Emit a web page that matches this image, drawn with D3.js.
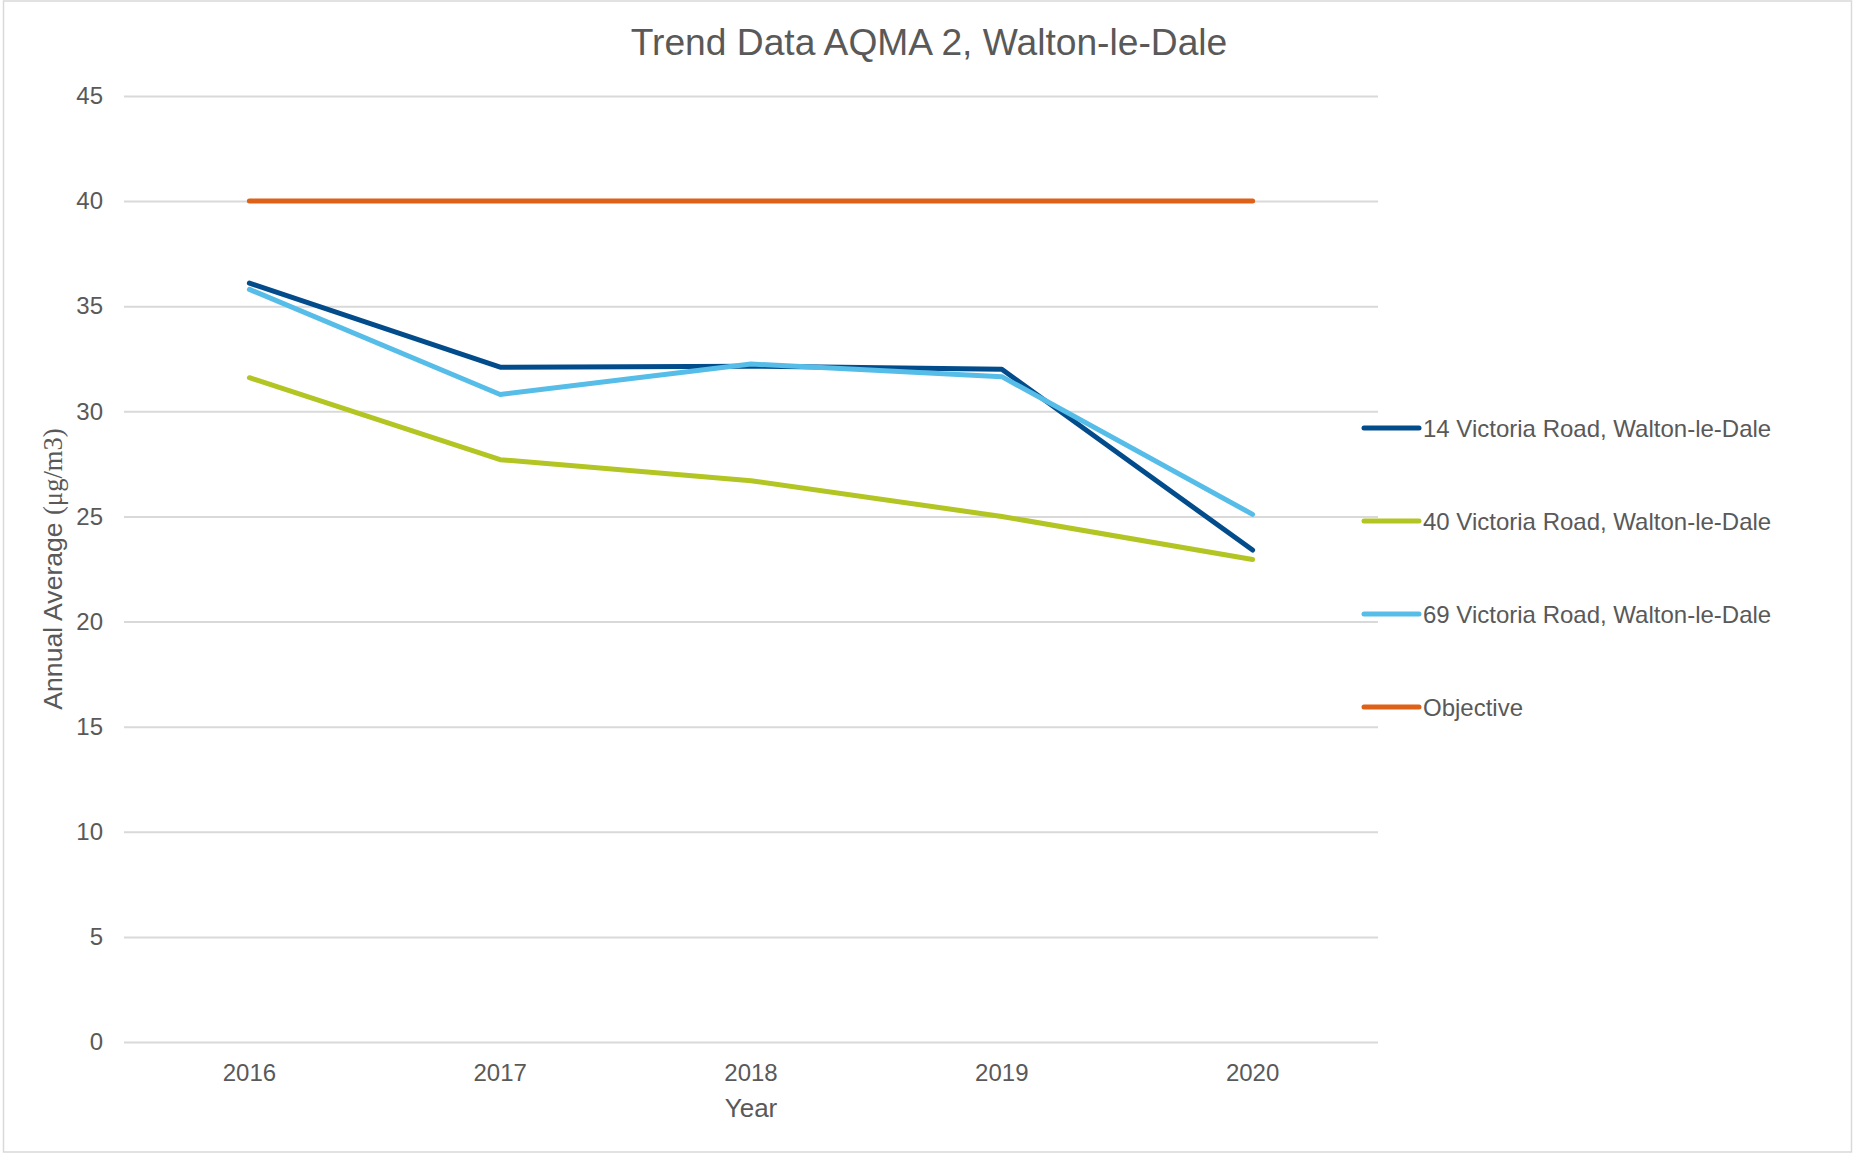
<!DOCTYPE html>
<html>
<head>
<meta charset="utf-8">
<script src="https://cdn.jsdelivr.net/npm/d3@7"></script>
<style>
  html, body { margin: 0; padding: 0; background: #fff; }
  svg { display: block; }
  text { font-family: "Liberation Sans", Arial, sans-serif; fill: #595959; }
</style>
</head>
<body>
<svg id="chart" width="1855" height="1154"></svg>
<script>
const years = ["2016", "2017", "2018", "2019", "2020"];
const yTicks = [0, 5, 10, 15, 20, 25, 30, 35, 40, 45];
const seriesNames = ["14 Victoria Road, Walton-le-Dale", "40 Victoria Road, Walton-le-Dale", "69 Victoria Road, Walton-le-Dale", "Objective"];
const victoria14 = [36.1, 32.1, 32.15, 32.0, 23.4];
const victoria40 = [31.6, 27.7, 26.7, 25.0, 22.95];
const victoria69 = [35.8, 30.8, 32.25, 31.65, 25.1];
const objective = [40, 40, 40, 40, 40];
const seriesColors = ["#034c8c", "#b3c522", "#56bde8", "#dd6117"];

const seriesValues = [victoria14, victoria40, victoria69, objective];

const svg = d3.select("#chart");
const W = 1855, H = 1154;
const plot = { left: 124, right: 1378, top: 96, bottom: 1042 };

// border
svg.append("rect")
  .attr("x", 3.5).attr("y", 1).attr("width", W - 7).attr("height", H - 3)
  .attr("fill", "#fff").attr("stroke", "#d9d9d9").attr("stroke-width", 1.5);

const x = d3.scaleBand().domain(years).range([plot.left, plot.right]);
const y = d3.scaleLinear().domain([0, 45]).range([plot.bottom, plot.top]);
const cx = d => x(d) + x.bandwidth() / 2;

// gridlines
const yAxis = d3.axisLeft(y).tickValues(yTicks).tickSize(-(plot.right - plot.left)).tickPadding(21);
const gy = svg.append("g").attr("transform", `translate(${plot.left},0)`).call(yAxis);
gy.select(".domain").remove();
gy.selectAll(".tick line").attr("stroke", "#d9d9d9").attr("stroke-width", 2);
gy.selectAll(".tick text").attr("font-size", 24).attr("fill", "#595959")
  .attr("font-family", "Liberation Sans, Arial, sans-serif");

// x axis labels
const xAxis = d3.axisBottom(x).tickSize(0).tickPadding(22);
const gx = svg.append("g").attr("transform", `translate(0,${plot.bottom})`).call(xAxis);
gx.select(".domain").remove();
gx.selectAll(".tick text").attr("font-size", 24).attr("fill", "#595959")
  .attr("font-family", "Liberation Sans, Arial, sans-serif");

// lines
const line = d3.line().x((d, i) => cx(years[i])).y(d => y(d));
seriesValues.forEach((vals, k) => {
  svg.append("path")
    .datum(vals)
    .attr("d", line)
    .attr("fill", "none")
    .attr("stroke", seriesColors[k])
    .attr("stroke-width", 5)
    .attr("stroke-linecap", "round")
    .attr("stroke-linejoin", "round");
});

// title
svg.append("text")
  .attr("x", 929).attr("y", 55)
  .attr("text-anchor", "middle")
  .attr("font-size", 37.2)
  .text("Trend Data AQMA 2, Walton-le-Dale");

// axis titles
svg.append("text")
  .attr("x", (plot.left + plot.right) / 2).attr("y", 1117)
  .attr("text-anchor", "middle")
  .attr("font-size", 26)
  .text("Year");

const yt = svg.append("text")
  .attr("transform", `translate(62,${(plot.top + plot.bottom) / 2}) rotate(-90)`)
  .attr("text-anchor", "middle")
  .attr("font-size", 26.6);
yt.append("tspan").text("Annual Average ");
yt.append("tspan").attr("font-family", "Liberation Serif, Times New Roman, serif").text("(μg/m3)");

// legend
const legendY = [428, 521, 614, 707];
const lg = svg.append("g");
seriesNames.forEach((name, k) => {
  lg.append("line")
    .attr("x1", 1364).attr("x2", 1419)
    .attr("y1", legendY[k]).attr("y2", legendY[k])
    .attr("stroke", seriesColors[k]).attr("stroke-width", 5)
    .attr("stroke-linecap", "round");
  lg.append("text")
    .attr("x", 1423).attr("y", legendY[k] + 8.5)
    .attr("font-size", 24)
    .text(name);
});
</script>
</body>
</html>
